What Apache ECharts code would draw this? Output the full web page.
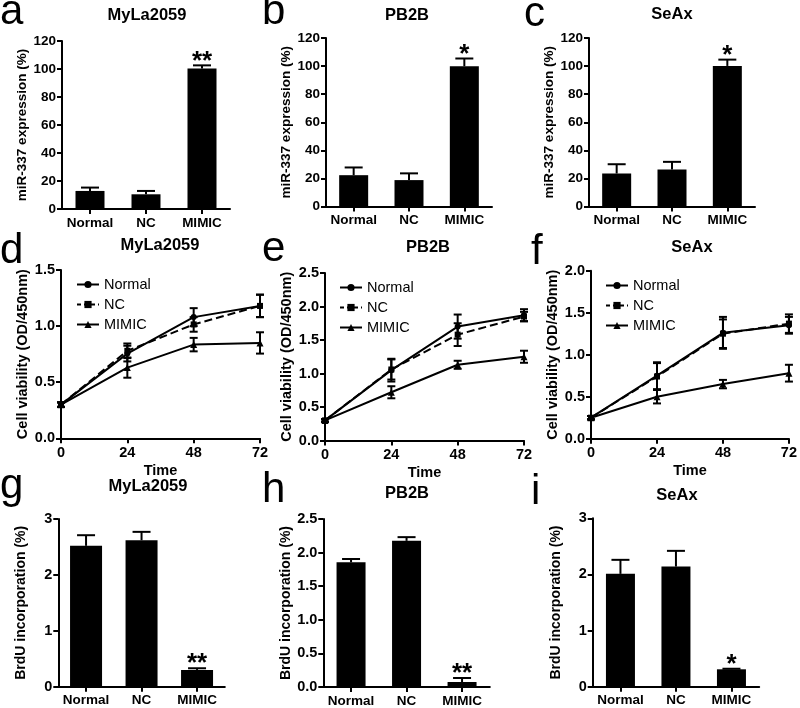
<!DOCTYPE html>
<html>
<head>
<meta charset="utf-8">
<script src="https://cdn.jsdelivr.net/npm/echarts@6/dist/echarts.min.js"></script>
<style>
html,body{margin:0;padding:0;background:#fff;}
#chart{width:800px;height:708px;}
</style>
</head>
<body>
<div id="chart"></div>
<script>
// ---------------- DATA ----------------
const categories = ['Normal', 'NC', 'MIMIC'];

// miR-337 expression (%)
const mirMyLa2059 = [12.9, 10.5, 100.3];
const mirMyLa2059Err = [2.4, 2.4, 2.3];
const mirMyLa2059Sig = ['', '', '**'];
const mirPB2B = [22.3, 18.8, 99.9];
const mirPB2BErr = [5.5, 4.8, 5.5];
const mirPB2BSig = ['', '', '*'];
const mirSeAx = [23.5, 26.4, 100.1];
const mirSeAxErr = [6.6, 5.4, 4.5];
const mirSeAxSig = ['', '', '*'];

// Cell viability (OD/450nm)
const timePoints = [0, 24, 48, 72];
const cvMyLaNormal = [0.30, 0.755, 1.08, 1.18];
const cvMyLaNormalErr = [0.02, 0.07, 0.08, 0.10];
const cvMyLaNC = [0.30, 0.78, 1.015, 1.18];
const cvMyLaNCErr = [0.02, 0.065, 0.065, 0.10];
const cvMyLaMimic = [0.30, 0.63, 0.835, 0.85];
const cvMyLaMimicErr = [0.02, 0.09, 0.06, 0.095];

const cvPB2BNormal = [0.30, 1.05, 1.70, 1.87];
const cvPB2BNormalErr = [0.02, 0.17, 0.18, 0.09];
const cvPB2BNC = [0.30, 1.06, 1.58, 1.85];
const cvPB2BNCErr = [0.02, 0.15, 0.17, 0.07];
const cvPB2BMimic = [0.30, 0.72, 1.13, 1.25];
const cvPB2BMimicErr = [0.02, 0.09, 0.06, 0.09];

const cvSeAxNormal = [0.25, 0.75, 1.26, 1.35];
const cvSeAxNormalErr = [0.02, 0.16, 0.19, 0.10];
const cvSeAxNC = [0.25, 0.74, 1.25, 1.37];
const cvSeAxNCErr = [0.02, 0.16, 0.17, 0.11];
const cvSeAxMimic = [0.25, 0.50, 0.65, 0.78];
const cvSeAxMimicErr = [0.02, 0.08, 0.05, 0.10];

// BrdU incorporation (%)
const brduMyLa2059 = [2.52, 2.62, 0.30];
const brduMyLa2059Err = [0.19, 0.15, 0.03];
const brduMyLa2059Sig = ['', '', '**'];
const brduPB2B = [1.855, 2.175, 0.074];
const brduPB2BErr = [0.05, 0.055, 0.06];
const brduPB2BSig = ['', '', '**'];
const brduSeAx = [2.01, 2.14, 0.31];
const brduSeAxErr = [0.25, 0.28, 0.01];
const brduSeAxSig = ['', '', '*'];

const lineNames = ['Normal', 'NC', 'MIMIC'];

// ---------------- BUILD ----------------
const FONT = '"Liberation Sans", Arial, sans-serif';
const grids = [], xAxes = [], yAxes = [], series = [], graphics = [], legends = [];

function axisLineStyle() { return {show: true, lineStyle: {color: '#000', width: 2}}; }
function axisTickStyle(extra) { return Object.assign({show: true, length: 5, lineStyle: {color: '#000', width: 2}}, extra || {}); }

function yAxisCfg(gi, c) {
  return {
    type: 'value', gridIndex: gi, min: 0, max: c.max, interval: c.interval,
    axisLine: axisLineStyle(), axisTick: axisTickStyle(), splitLine: {show: false},
    axisLabel: {color: '#000', fontWeight: 'bold', fontSize: c.labelSize, fontFamily: FONT, margin: 6,
      formatter: v => c.decimals ? v.toFixed(c.decimals) : String(v)},
    name: c.yName, nameLocation: 'middle', nameGap: c.nameGap,
    nameTextStyle: {color: '#000', fontWeight: 'bold', fontSize: c.nameSize, fontFamily: FONT}
  };
}

function addText(text, x, y, font, align) {
  graphics.push({type: 'text', x: x, y: y, silent: true,
    style: {text: text, fill: '#000', font: font, align: align || 'center', verticalAlign: 'middle',
      textAlign: align || 'center', textVerticalAlign: 'middle'}});
}

function addBarPanel(c) {
  const gi = grids.length;
  grids.push({left: c.left, top: c.top, width: c.width, height: c.height});
  xAxes.push({type: 'category', gridIndex: gi, data: categories,
    axisLine: axisLineStyle(), axisTick: axisTickStyle({alignWithLabel: true}),
    axisLabel: {color: '#000', fontWeight: 'bold', fontSize: 13.5, fontFamily: FONT, margin: 7, interval: 0}});
  yAxes.push(yAxisCfg(gi, c));
  series.push({type: 'bar', xAxisIndex: gi, yAxisIndex: gi, data: c.values, barWidth: c.barWidth,
    itemStyle: {color: '#000'}, silent: true, z: 2});
  const sig = c.sig, errs = c.errs;
  series.push({type: 'custom', xAxisIndex: gi, yAxisIndex: gi, z: 5, silent: true,
    encode: {x: 0, y: 1},
    data: c.values.map((m, i) => [i, m, errs[i]]),
    renderItem: function (params, api) {
      const idx = api.value(0), m = api.value(1), e = api.value(2);
      const p0 = api.coord([idx, m]), p1 = api.coord([idx, m + e]);
      const cap = 9;
      const ch = [
        {type: 'line', shape: {x1: p0[0], y1: p0[1], x2: p1[0], y2: p1[1]}, style: {stroke: '#000', lineWidth: 2}},
        {type: 'line', shape: {x1: p1[0] - cap, y1: p1[1], x2: p1[0] + cap, y2: p1[1]}, style: {stroke: '#000', lineWidth: 2}}
      ];
      const s = sig[params.dataIndex];
      if (s) ch.push({type: 'text', x: p1[0], y: p1[1] - 4,
        style: {text: s, fill: '#000', font: 'bold 26px ' + FONT, align: 'center', verticalAlign: 'middle',
          textAlign: 'center', textVerticalAlign: 'middle'}});
      return {type: 'group', children: ch};
    }});
}

function addLinePanel(c) {
  const gi = grids.length;
  grids.push({left: c.left, top: c.top, width: c.width, height: c.height});
  xAxes.push({type: 'value', gridIndex: gi, min: 0, max: 72, interval: 24,
    axisLine: axisLineStyle(), axisTick: axisTickStyle(), splitLine: {show: false},
    axisLabel: {color: '#000', fontWeight: 'bold', fontSize: 14.5, fontFamily: FONT, margin: 7},
    name: 'Time', nameLocation: 'middle', nameGap: 25,
    nameTextStyle: {color: '#000', fontWeight: 'bold', fontSize: 14.5, fontFamily: FONT}});
  yAxes.push(yAxisCfg(gi, c));
  const symbols = ['circle', 'rect', 'triangle'];
  const sizes = [6, 6, 7];
  c.lines.forEach((vals, k) => {
    series.push({type: 'line', name: lineNames[k], xAxisIndex: gi, yAxisIndex: gi,
      data: timePoints.map((t, i) => [t, vals[i]]),
      symbol: symbols[k], symbolSize: sizes[k], showSymbol: true,
      lineStyle: {color: '#000', width: 2, type: k === 1 ? 'dashed' : 'solid'},
      itemStyle: {color: '#000'}, silent: true, z: 3});
    const errs = c.errs[k];
    series.push({type: 'custom', xAxisIndex: gi, yAxisIndex: gi, z: 4, silent: true,
      encode: {x: 0, y: 1},
      data: timePoints.map((t, i) => [t, vals[i], errs[i]]),
      renderItem: function (params, api) {
        const t = api.value(0), m = api.value(1), e = api.value(2);
        const lo = api.coord([t, m - e]), hi = api.coord([t, m + e]);
        const cap = 4;
        return {type: 'group', children: [
          {type: 'line', shape: {x1: lo[0], y1: lo[1], x2: hi[0], y2: hi[1]}, style: {stroke: '#000', lineWidth: 2}},
          {type: 'line', shape: {x1: hi[0] - cap, y1: hi[1], x2: hi[0] + cap, y2: hi[1]}, style: {stroke: '#000', lineWidth: 2}},
          {type: 'line', shape: {x1: lo[0] - cap, y1: lo[1], x2: lo[0] + cap, y2: lo[1]}, style: {stroke: '#000', lineWidth: 2}}
        ]};
      }});
  });
  legends.push({left: c.legLeft, top: c.legTop, orient: 'vertical', itemGap: 5, itemWidth: 22, itemHeight: 9,
    selectedMode: false,
    data: [
      {name: 'Normal', lineStyle: {type: 'solid', color: '#000', width: 2}},
      {name: 'NC', lineStyle: {type: [4, 3], color: '#000', width: 2}},
      {name: 'MIMIC', lineStyle: {type: 'solid', color: '#000', width: 2}}
    ],
    textStyle: {color: '#000', fontSize: 14.5, fontFamily: FONT}});
}

// Row 1: miR-337 expression
const mirName = 'miR-337 expression (%)';
addBarPanel({left: 62, top: 41, width: 168, height: 168, max: 120, interval: 20, yName: mirName, nameGap: 30,
  nameSize: 13.5, labelSize: 13.5, values: mirMyLa2059, errs: mirMyLa2059Err, sig: mirMyLa2059Sig, barWidth: 29});
addBarPanel({left: 326, top: 38, width: 166, height: 168.5, max: 120, interval: 20, yName: mirName, nameGap: 32,
  nameSize: 13.5, labelSize: 13.5, values: mirPB2B, errs: mirPB2BErr, sig: mirPB2BSig, barWidth: 29});
addBarPanel({left: 589, top: 38, width: 166, height: 168.5, max: 120, interval: 20, yName: mirName, nameGap: 29,
  nameSize: 13.5, labelSize: 13.5, values: mirSeAx, errs: mirSeAxErr, sig: mirSeAxSig, barWidth: 29});

// Row 2: cell viability
const cvName = 'Cell viability (OD/450nm)';
addLinePanel({left: 61, top: 270, width: 199, height: 168.3, max: 1.5, interval: 0.5, decimals: 1, yName: cvName,
  nameGap: 25, nameSize: 14.5, labelSize: 14.5, lines: [cvMyLaNormal, cvMyLaNC, cvMyLaMimic],
  errs: [cvMyLaNormalErr, cvMyLaNCErr, cvMyLaMimicErr], legLeft: 71, legTop: 272});
addLinePanel({left: 325, top: 273, width: 199, height: 167.5, max: 2.5, interval: 0.5, decimals: 1, yName: cvName,
  nameGap: 24, nameSize: 14.5, labelSize: 14.5, lines: [cvPB2BNormal, cvPB2BNC, cvPB2BMimic],
  errs: [cvPB2BNormalErr, cvPB2BNCErr, cvPB2BMimicErr], legLeft: 334, legTop: 275});
addLinePanel({left: 591, top: 270.7, width: 200.5, height: 168, max: 2.0, interval: 0.5, decimals: 1, yName: cvName,
  nameGap: 25, nameSize: 14.5, labelSize: 14.5, lines: [cvSeAxNormal, cvSeAxNC, cvSeAxMimic],
  errs: [cvSeAxNormalErr, cvSeAxNCErr, cvSeAxMimicErr], legLeft: 600, legTop: 273});

// Row 3: BrdU incorporation
const brduName = 'BrdU incorporation (%)';
addBarPanel({left: 58.3, top: 519, width: 166.5, height: 167.7, max: 3, interval: 1, yName: brduName, nameGap: 30,
  nameSize: 14, labelSize: 14.5, values: brduMyLa2059, errs: brduMyLa2059Err, sig: brduMyLa2059Sig, barWidth: 32});
addBarPanel({left: 323.3, top: 519, width: 166.5, height: 168.3, max: 2.5, interval: 0.5, decimals: 1, yName: brduName,
  nameGap: 30, nameSize: 14, labelSize: 14.5, values: brduPB2B, errs: brduPB2BErr, sig: brduPB2BSig, barWidth: 29});
addBarPanel({left: 592.7, top: 518.3, width: 166.5, height: 168.4, max: 3, interval: 1, yName: brduName, nameGap: 30,
  nameSize: 14, labelSize: 14.5, values: brduSeAx, errs: brduSeAxErr, sig: brduSeAxSig, barWidth: 29});

// Titles
const titleFont = 'bold 16.5px ' + FONT;
addText('MyLa2059', 147, 15, titleFont);
addText('PB2B', 407, 15, titleFont);
addText('SeAx', 672, 14, titleFont);
addText('MyLa2059', 160, 245, titleFont);
addText('PB2B', 428, 247, titleFont);
addText('SeAx', 692, 247, titleFont);
addText('MyLa2059', 148, 486, titleFont);
addText('PB2B', 407, 493, titleFont);
addText('SeAx', 677, 495, titleFont);

// Panel letters
const letterFont = '42px ' + FONT;
addText('a', 0, 12, letterFont, 'left');
addText('b', 262, 12, letterFont, 'left');
addText('c', 524, 14, letterFont, 'left');
addText('d', 0, 251, letterFont, 'left');
addText('e', 262, 249, letterFont, 'left');
addText('f', 531, 252, letterFont, 'left');
addText('g', 0, 486, letterFont, 'left');
addText('h', 262, 490, letterFont, 'left');
addText('i', 531, 492, letterFont, 'left');

const chart = echarts.init(document.getElementById('chart'), null, {renderer: 'canvas'});
chart.setOption({
  backgroundColor: '#fff',
  animation: false,
  grid: grids,
  xAxis: xAxes,
  yAxis: yAxes,
  legend: legends,
  series: series,
  graphic: graphics
});
</script>
</body>
</html>
